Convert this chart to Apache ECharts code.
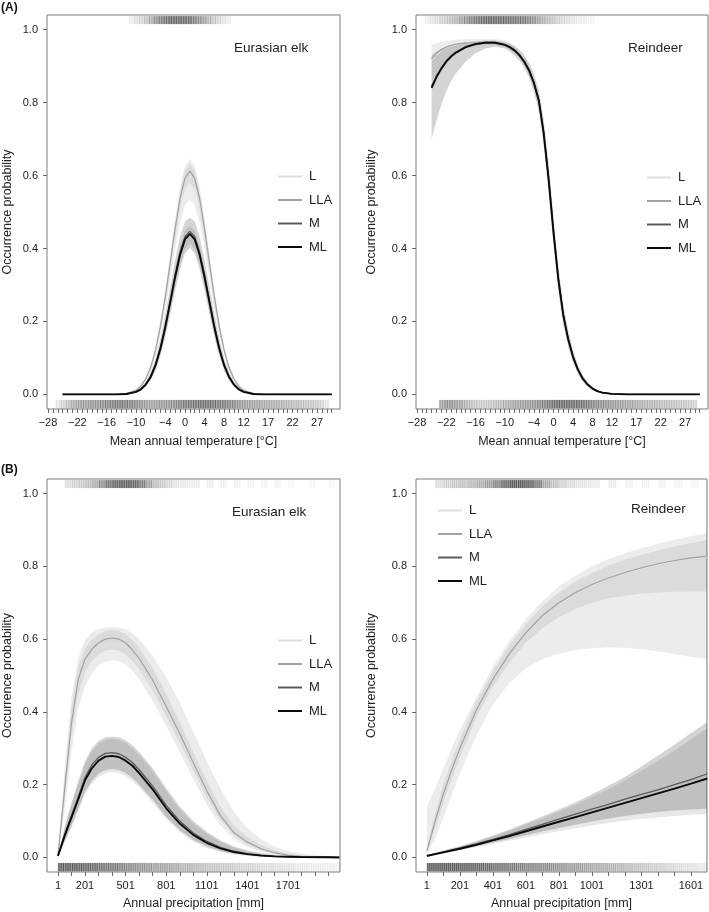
<!DOCTYPE html>
<html><head><meta charset="utf-8">
<script src="https://cdn.jsdelivr.net/npm/echarts@6/dist/echarts.min.js"></script>
<style>html,body{margin:0;padding:0;background:#fff}#c{width:709px;height:912px}</style>
</head><body><div id="c"></div>
<script>
// ---------- labels ----------
const MODELS = ['L','LLA','M','ML'];
const Y_LABELS = [0,0.2,0.4,0.6,0.8,1.0];
const TEMP_LABELS = [-28,-22,-16,-10,-4,0,4,8,12,17,22,27];
const PREC_LABELS_ELK = [1,201,501,801,1101,1401,1701];
const PREC_LABELS_REIN = [1,201,401,601,801,1001,1301,1601];
const PANEL_TITLES = ['Eurasian elk','Reindeer','Eurasian elk','Reindeer'];
const X_NAMES = ['Mean annual temperature [°C]','Mean annual temperature [°C]','Annual precipitation [mm]','Annual precipitation [mm]'];
const Y_NAME = 'Occurrence probability';

// ---------- (A) Eurasian elk vs temperature ----------
const TA_X   = [-25,-14,-12,-10,-9,-8,-7,-6,-5,-4,-3,-2,-1,0,1,2,3,4,5,6,7,8,9,10,11,12,14,16,30];
const TA_ML  = [0,0,0.001,0.007,0.014,0.027,0.048,0.08,0.126,0.185,0.253,0.322,0.383,0.425,0.44,0.425,0.383,0.322,0.253,0.185,0.126,0.08,0.048,0.027,0.014,0.007,0.001,0,0];
const TA_M   = [0,0,0.001,0.007,0.015,0.028,0.05,0.083,0.13,0.19,0.258,0.328,0.39,0.432,0.447,0.432,0.39,0.328,0.258,0.19,0.13,0.083,0.05,0.028,0.015,0.007,0.001,0,0];
const TA_LLA = [0,0,0.002,0.011,0.023,0.043,0.075,0.122,0.188,0.269,0.362,0.455,0.537,0.592,0.612,0.592,0.537,0.455,0.362,0.269,0.188,0.122,0.075,0.043,0.023,0.011,0.002,0,0];
const TA_L   = [0,0,0.002,0.011,0.022,0.041,0.072,0.118,0.181,0.26,0.349,0.439,0.518,0.571,0.59,0.571,0.518,0.439,0.349,0.26,0.181,0.118,0.072,0.041,0.022,0.011,0.002,0,0];
const TA_L_LO   = [0,0,0.002,0.01,0.02,0.038,0.066,0.107,0.165,0.235,0.317,0.398,0.47,0.518,0.535,0.518,0.47,0.398,0.317,0.235,0.165,0.107,0.066,0.038,0.02,0.01,0.002,0,0];
const TA_L_HI   = [0,0,0.003,0.013,0.026,0.048,0.082,0.133,0.204,0.29,0.387,0.483,0.57,0.626,0.645,0.626,0.57,0.483,0.387,0.29,0.204,0.133,0.082,0.048,0.026,0.013,0.003,0,0];
const TA_LLA_LO = [0,0,0.002,0.01,0.022,0.041,0.071,0.116,0.179,0.256,0.344,0.432,0.51,0.562,0.581,0.562,0.51,0.432,0.344,0.256,0.179,0.116,0.071,0.041,0.022,0.01,0.002,0,0];
const TA_LLA_HI = [0,0,0.002,0.011,0.024,0.045,0.078,0.126,0.195,0.278,0.375,0.471,0.556,0.613,0.633,0.613,0.556,0.471,0.375,0.278,0.195,0.126,0.078,0.045,0.024,0.011,0.002,0,0];
const TA_M_LO   = [0,0,0.001,0.005,0.011,0.021,0.039,0.066,0.106,0.158,0.219,0.284,0.343,0.386,0.402,0.386,0.343,0.284,0.219,0.158,0.106,0.066,0.039,0.021,0.011,0.005,0.001,0,0];
const TA_M_HI   = [0,0,0.002,0.009,0.019,0.035,0.062,0.1,0.154,0.222,0.296,0.37,0.433,0.474,0.485,0.474,0.433,0.37,0.296,0.222,0.154,0.1,0.062,0.035,0.019,0.009,0.002,0,0];
const TA_ML_LO  = [0,0,0.001,0.006,0.012,0.023,0.042,0.071,0.113,0.168,0.233,0.299,0.357,0.398,0.414,0.398,0.357,0.299,0.233,0.168,0.113,0.071,0.042,0.023,0.012,0.006,0.001,0,0];
const TA_ML_HI  = [0,0,0.001,0.008,0.016,0.031,0.054,0.09,0.139,0.202,0.273,0.344,0.407,0.449,0.462,0.449,0.407,0.344,0.273,0.202,0.139,0.09,0.054,0.031,0.016,0.008,0.001,0,0];

// ---------- (A) Reindeer vs temperature ----------
const TB_X   = [-25,-24,-23,-22,-21,-20,-18,-16,-14,-12,-10,-9,-8,-7,-6,-5,-4,-3,-2,-1,0,1,2,3,4,5,6,7,8,9,10,12,15,20,25,30];
const TB_ML  = [0.84,0.87,0.893,0.912,0.926,0.937,0.952,0.96,0.964,0.964,0.958,0.952,0.943,0.93,0.912,0.888,0.853,0.805,0.715,0.59,0.445,0.315,0.218,0.152,0.103,0.068,0.043,0.027,0.016,0.009,0.005,0.0015,0,0,0,0];
const TB_M   = [0.845,0.873,0.895,0.914,0.928,0.938,0.953,0.961,0.965,0.965,0.959,0.953,0.944,0.931,0.913,0.889,0.854,0.807,0.718,0.593,0.448,0.318,0.22,0.154,0.104,0.069,0.044,0.028,0.016,0.009,0.005,0.0015,0,0,0,0];
const TB_LLA = [0.92,0.935,0.945,0.952,0.957,0.96,0.963,0.964,0.965,0.965,0.959,0.953,0.944,0.931,0.913,0.889,0.854,0.807,0.718,0.593,0.448,0.318,0.22,0.154,0.104,0.069,0.044,0.028,0.016,0.009,0.005,0.0015,0,0,0,0];
const TB_L   = [0.915,0.93,0.942,0.95,0.955,0.958,0.962,0.964,0.965,0.965,0.959,0.953,0.944,0.931,0.913,0.889,0.854,0.807,0.718,0.593,0.448,0.318,0.22,0.154,0.104,0.069,0.044,0.028,0.016,0.009,0.005,0.0015,0,0,0,0];
const TB_L_LO = [0.86,0.88,0.9,0.915,0.925,0.935,0.948,0.955,0.958,0.958,0.952,0.945,0.935,0.921,0.902,0.876,0.84,0.79,0.695,0.568,0.425,0.297,0.203,0.142,0.095,0.062,0.039,0.024,0.014,0.008,0.004,0.001,0,0,0,0];
const TB_L_HI = [0.958,0.962,0.966,0.968,0.97,0.972,0.974,0.975,0.975,0.975,0.97,0.963,0.954,0.942,0.925,0.902,0.868,0.823,0.738,0.615,0.47,0.335,0.233,0.164,0.113,0.075,0.048,0.031,0.019,0.011,0.006,0.002,0,0,0,0];
const TB_M_LO = [0.70,0.75,0.795,0.83,0.86,0.88,0.912,0.935,0.948,0.953,0.948,0.94,0.93,0.915,0.895,0.868,0.828,0.775,0.68,0.55,0.405,0.28,0.19,0.132,0.087,0.057,0.035,0.021,0.012,0.006,0.003,0.001,0,0,0,0];
const TB_M_HI = [0.93,0.94,0.948,0.953,0.957,0.96,0.965,0.968,0.97,0.97,0.966,0.962,0.955,0.945,0.93,0.91,0.878,0.835,0.752,0.635,0.49,0.355,0.248,0.177,0.122,0.082,0.053,0.034,0.021,0.012,0.007,0.002,0,0,0,0];

// ---------- (B) Eurasian elk vs precipitation ----------
const PA_X   = [1,51,101,151,201,251,301,351,401,451,501,551,601,701,801,901,1001,1101,1201,1301,1401,1501,1601,1701,1801,2001,2080];
const PA_LLA = [0.005,0.19,0.37,0.49,0.545,0.572,0.59,0.6,0.603,0.6,0.59,0.57,0.547,0.487,0.415,0.34,0.26,0.183,0.115,0.068,0.042,0.024,0.013,0.006,0.003,0.001,0.0005];
const PA_L   = [0.005,0.184,0.359,0.475,0.529,0.555,0.572,0.582,0.585,0.582,0.572,0.553,0.531,0.472,0.403,0.33,0.252,0.178,0.112,0.066,0.041,0.023,0.013,0.006,0.003,0.001,0];
const PA_ML  = [0.004,0.06,0.11,0.16,0.212,0.245,0.266,0.277,0.279,0.276,0.266,0.252,0.232,0.187,0.135,0.093,0.062,0.04,0.025,0.015,0.009,0.005,0.003,0.002,0.001,0.0005,0];
const PA_M   = [0.005,0.063,0.115,0.167,0.22,0.254,0.275,0.286,0.288,0.285,0.275,0.261,0.241,0.196,0.143,0.1,0.067,0.044,0.028,0.017,0.01,0.006,0.003,0.002,0.001,0.0005,0];
const PA_L_LO   = [0.003,0.13,0.29,0.41,0.47,0.505,0.527,0.538,0.542,0.54,0.53,0.513,0.49,0.43,0.36,0.29,0.215,0.145,0.088,0.05,0.028,0.015,0.007,0.003,0.001,0,0];
const PA_L_HI   = [0.008,0.25,0.44,0.55,0.598,0.618,0.628,0.632,0.633,0.632,0.627,0.616,0.6,0.555,0.495,0.425,0.345,0.265,0.19,0.125,0.08,0.05,0.03,0.018,0.01,0.003,0.002];
const PA_LLA_LO = [0.004,0.16,0.33,0.45,0.51,0.54,0.558,0.568,0.571,0.568,0.558,0.54,0.517,0.458,0.387,0.315,0.238,0.165,0.103,0.06,0.035,0.019,0.009,0.004,0.002,0,0];
const PA_LLA_HI = [0.006,0.22,0.41,0.525,0.575,0.598,0.613,0.622,0.625,0.622,0.614,0.597,0.576,0.52,0.45,0.372,0.29,0.21,0.14,0.088,0.056,0.034,0.02,0.011,0.006,0.002,0.001];
const PA_M_LO   = [0.003,0.045,0.088,0.133,0.18,0.21,0.23,0.24,0.243,0.24,0.232,0.218,0.2,0.158,0.112,0.075,0.048,0.03,0.018,0.01,0.006,0.003,0.002,0.001,0,0,0];
const PA_M_HI   = [0.007,0.085,0.15,0.21,0.265,0.3,0.32,0.33,0.332,0.33,0.322,0.308,0.29,0.245,0.19,0.14,0.1,0.07,0.047,0.03,0.019,0.012,0.007,0.004,0.002,0.001,0.001];
const PA_ML_LO  = [0.002,0.04,0.082,0.127,0.173,0.203,0.222,0.232,0.235,0.232,0.224,0.21,0.192,0.15,0.105,0.069,0.043,0.026,0.015,0.008,0.004,0.002,0.001,0,0,0,0];
const PA_ML_HI  = [0.006,0.08,0.143,0.202,0.257,0.292,0.313,0.323,0.326,0.323,0.315,0.3,0.282,0.237,0.183,0.133,0.094,0.065,0.043,0.027,0.017,0.01,0.006,0.003,0.002,0.001,0];

// ---------- (B) Reindeer vs precipitation ----------
const PB_X   = [1,51,101,151,201,301,401,501,601,701,801,901,1001,1101,1201,1301,1401,1501,1601,1700];
const PB_LLA = [0.018,0.10,0.175,0.24,0.30,0.405,0.49,0.56,0.618,0.665,0.70,0.728,0.75,0.768,0.783,0.796,0.807,0.816,0.823,0.828];
const PB_L   = [0.016,0.098,0.172,0.237,0.297,0.402,0.487,0.557,0.615,0.662,0.697,0.725,0.747,0.765,0.78,0.793,0.804,0.813,0.82,0.825];
const PB_ML  = [0.004,0.009,0.014,0.019,0.024,0.035,0.047,0.059,0.072,0.085,0.098,0.111,0.124,0.137,0.15,0.163,0.176,0.189,0.203,0.217];
const PB_M   = [0.005,0.01,0.015,0.02,0.026,0.037,0.05,0.063,0.077,0.091,0.105,0.119,0.133,0.146,0.16,0.173,0.186,0.2,0.214,0.23];
const PB_L_LO   = [0.01,0.05,0.11,0.17,0.23,0.335,0.42,0.48,0.52,0.545,0.56,0.57,0.575,0.577,0.576,0.572,0.566,0.559,0.551,0.545];
const PB_L_HI   = [0.14,0.19,0.245,0.3,0.35,0.44,0.525,0.595,0.655,0.705,0.745,0.775,0.8,0.82,0.836,0.85,0.862,0.873,0.883,0.892];
const PB_LLA_LO = [0.008,0.08,0.15,0.215,0.275,0.385,0.47,0.535,0.59,0.63,0.66,0.683,0.7,0.712,0.72,0.725,0.728,0.73,0.731,0.731];
const PB_LLA_HI = [0.03,0.12,0.2,0.265,0.325,0.428,0.512,0.583,0.642,0.69,0.728,0.758,0.782,0.802,0.818,0.832,0.844,0.855,0.864,0.872];
const PB_M_LO   = [0.003,0.007,0.012,0.017,0.021,0.031,0.041,0.051,0.061,0.071,0.081,0.09,0.099,0.107,0.114,0.12,0.125,0.129,0.132,0.134];
const PB_M_HI   = [0.008,0.013,0.019,0.025,0.031,0.045,0.06,0.077,0.095,0.113,0.132,0.152,0.174,0.197,0.222,0.25,0.28,0.31,0.342,0.372];
const PB_ML_LO  = [0.002,0.006,0.011,0.015,0.019,0.028,0.037,0.046,0.055,0.064,0.072,0.08,0.088,0.095,0.101,0.106,0.11,0.114,0.117,0.119];
const PB_ML_HI  = [0.007,0.012,0.018,0.024,0.03,0.043,0.058,0.074,0.091,0.108,0.126,0.145,0.166,0.188,0.212,0.238,0.265,0.294,0.325,0.355];

// ---------- rug densities [x, density] ----------
const RUG_TA_TOP = [[-11,0.08],[-10,0.15],[-9,0.2],[-8,0.28],[-7,0.4],[-6,0.55],[-5,0.65],[-4,0.72],[-3,0.8],[-2,0.82],[-1,0.82],[0,0.8],[1,0.75],[2,0.65],[3,0.55],[4,0.45],[5,0.35],[6,0.25],[7,0.18],[8,0.12],[9,0.08]];
const RUG_TA_BOT = [[-26,0.12],[-25,0.2],[-24,0.3],[-23,0.4],[-22,0.45],[-21,0.5],[-20,0.5],[-19,0.55],[-18,0.55],[-17,0.6],[-16,0.62],[-15,0.65],[-14,0.68],[-13,0.7],[-12,0.68],[-11,0.65],[-10,0.6],[-9,0.55],[-8,0.5],[-7,0.48],[-6,0.48],[-5,0.5],[-4,0.52],[-3,0.55],[-2,0.6],[-1,0.65],[0,0.7],[1,0.72],[2,0.75],[3,0.75],[4,0.75],[5,0.75],[6,0.72],[7,0.7],[8,0.68],[9,0.65],[10,0.6],[11,0.55],[12,0.5],[13,0.48],[14,0.45],[15,0.45],[16,0.42],[17,0.42],[18,0.4],[19,0.4],[20,0.38],[21,0.35],[22,0.33],[23,0.32],[24,0.3],[25,0.28],[26,0.28],[27,0.25],[28,0.2],[29,0.12]];
const RUG_TB_TOP = [[-26,0.08],[-25,0.12],[-24,0.15],[-23,0.2],[-22,0.25],[-21,0.3],[-20,0.35],[-19,0.45],[-18,0.55],[-17,0.62],[-16,0.7],[-15,0.75],[-14,0.8],[-13,0.82],[-12,0.82],[-11,0.8],[-10,0.78],[-9,0.75],[-8,0.72],[-7,0.7],[-6,0.68],[-5,0.62],[-4,0.55],[-3,0.45],[-2,0.38],[-1,0.32],[0,0.28],[1,0.22],[2,0.18],[3,0.15],[4,0.12],[5,0.1],[6,0.08],[7,0.06],[8,0.05]];
const RUG_TB_BOT = [[-23,0.45],[-22,0.55],[-21,0.55],[-20,0.5],[-19,0.45],[-18,0.38],[-17,0.32],[-16,0.28],[-15,0.25],[-14,0.25],[-13,0.28],[-12,0.3],[-11,0.32],[-10,0.38],[-9,0.42],[-8,0.45],[-7,0.48],[-6,0.5],[-5,0.52],[-4,0.55],[-3,0.6],[-2,0.65],[-1,0.7],[0,0.75],[1,0.8],[2,0.82],[3,0.82],[4,0.8],[5,0.78],[6,0.75],[7,0.7],[8,0.65],[9,0.6],[10,0.58],[11,0.55],[12,0.52],[13,0.5],[14,0.48],[15,0.45],[16,0.45],[17,0.42],[18,0.4],[19,0.38],[20,0.36],[21,0.35],[22,0.33],[23,0.32],[24,0.3],[25,0.3],[26,0.28],[27,0.28],[28,0.25],[29,0.2]];
const RUG_PA_TOP = [[75,0.15],[125,0.2],[175,0.25],[225,0.3],[275,0.4],[325,0.55],[375,0.7],[425,0.8],[475,0.85],[525,0.85],[575,0.8],[625,0.65],[675,0.45],[725,0.3],[775,0.25],[825,0.18],[875,0.12],[925,0.1],[975,0.08],[1025,0.08],[1125,0.08],[1225,0.06],[1325,0.06],[1425,0.05],[1525,0.05],[1625,0.05],[1725,0.04],[1875,0.04],[2025,0.04]];
const RUG_PA_BOT = [[25,0.85],[75,0.85],[125,0.85],[175,0.82],[225,0.8],[275,0.78],[325,0.72],[375,0.7],[425,0.68],[475,0.62],[525,0.58],[575,0.55],[625,0.52],[675,0.5],[725,0.45],[775,0.45],[825,0.42],[875,0.4],[925,0.35],[975,0.35],[1025,0.32],[1075,0.3],[1125,0.28],[1175,0.28],[1225,0.25],[1275,0.25],[1325,0.22],[1375,0.2],[1425,0.2],[1475,0.18],[1525,0.15],[1575,0.15],[1625,0.13],[1675,0.12],[1725,0.12],[1775,0.1],[1825,0.1],[1875,0.08],[1925,0.08],[1975,0.07],[2025,0.07],[2075,0.06]];
const RUG_PB_TOP = [[75,0.15],[125,0.2],[175,0.25],[225,0.28],[275,0.32],[325,0.38],[375,0.45],[425,0.6],[475,0.75],[525,0.85],[575,0.85],[625,0.8],[675,0.65],[725,0.4],[775,0.28],[825,0.2],[875,0.15],[925,0.12],[975,0.1],[1025,0.08],[1125,0.08],[1225,0.06],[1325,0.06],[1425,0.05],[1525,0.05],[1625,0.04]];
const RUG_PB_BOT = [[25,0.85],[75,0.85],[125,0.85],[175,0.85],[225,0.82],[275,0.8],[325,0.78],[375,0.75],[425,0.7],[475,0.68],[525,0.65],[575,0.62],[625,0.6],[675,0.58],[725,0.55],[775,0.52],[825,0.5],[875,0.48],[925,0.45],[975,0.42],[1025,0.4],[1075,0.38],[1125,0.35],[1175,0.33],[1225,0.3],[1275,0.28],[1325,0.25],[1375,0.22],[1425,0.2],[1475,0.18],[1525,0.15],[1575,0.13],[1625,0.12],[1675,0.1]];

// ---------- styling / layout (not data) ----------
const FONT = '"Liberation Sans", Arial, Helvetica, sans-serif';
const GRIDS = [[47,15,293,394],[416,15,292,394],[47,479,293,393],[416,479,291,393]];
const XR = [[-28.2,31.7],[-28.2,31.7],[-80,2085],[-65,1698]];
const YNAME_GAP = [32.5,37.5,32.5,37.5];
const XNAME_GAP = [26,26,25,25];
const LINE_STYLE = {L:{color:'#dedede',width:1.2}, LLA:{color:'#a2a2a2',width:1.2}, M:{color:'#5a5a5a',width:1.3}, ML:{color:'#0a0a0a',width:1.9}};
const BAND_FILL = {L:'rgba(0,0,0,0.075)', LLA:'rgba(0,0,0,0.07)', M:'rgba(0,0,0,0.17)', ML:'rgba(0,0,0,0.09)'};

function range(a,b,s){const r=[];for(let v=a;v<=b+1e-9;v+=s)r.push(v);return r;}
const TEMP_TICKS = range(-28,30,1);
const PREC_TICKS_ELK = range(1,2001,100);
const PREC_TICKS_REIN = range(1,1601,100);

const minus = v => v < 0 ? '\u2212' + Math.abs(v) : String(v);

const PANELS = [
  {x:TA_X, lines:{L:TA_L,LLA:TA_LLA,M:TA_M,ML:TA_ML}, bands:{L:[TA_L_LO,TA_L_HI],LLA:[TA_LLA_LO,TA_LLA_HI],M:[TA_M_LO,TA_M_HI],ML:[TA_ML_LO,TA_ML_HI]}, rugTop:RUG_TA_TOP, rugBot:RUG_TA_BOT, binW:1, ticks:TEMP_TICKS, labels:TEMP_LABELS},
  {x:TB_X, lines:{L:TB_L,LLA:TB_LLA,M:TB_M,ML:TB_ML}, bands:{L:[TB_L_LO,TB_L_HI],M:[TB_M_LO,TB_M_HI]}, rugTop:RUG_TB_TOP, rugBot:RUG_TB_BOT, binW:1, ticks:TEMP_TICKS, labels:TEMP_LABELS},
  {x:PA_X, lines:{L:PA_L,LLA:PA_LLA,M:PA_M,ML:PA_ML}, bands:{L:[PA_L_LO,PA_L_HI],LLA:[PA_LLA_LO,PA_LLA_HI],M:[PA_M_LO,PA_M_HI],ML:[PA_ML_LO,PA_ML_HI]}, rugTop:RUG_PA_TOP, rugBot:RUG_PA_BOT, binW:50, ticks:PREC_TICKS_ELK, labels:PREC_LABELS_ELK},
  {x:PB_X, lines:{L:PB_L,LLA:PB_LLA,M:PB_M,ML:PB_ML}, bands:{L:[PB_L_LO,PB_L_HI],LLA:[PB_LLA_LO,PB_LLA_HI],M:[PB_M_LO,PB_M_HI],ML:[PB_ML_LO,PB_ML_HI]}, rugTop:RUG_PB_TOP, rugBot:RUG_PB_BOT, binW:50, ticks:PREC_TICKS_REIN, labels:PREC_LABELS_REIN}
];

function bandSeries(gi, xs, lo, hi, fill){
  return {type:'custom', xAxisIndex:gi, yAxisIndex:gi, silent:true, clip:true, z:1,
    data:[[xs[0], lo[0]]],
    renderItem:function(params, api){
      const pts=[];
      for(let i=0;i<xs.length;i++) pts.push(api.coord([xs[i], hi[i]]));
      for(let i=xs.length-1;i>=0;i--) pts.push(api.coord([xs[i], lo[i]]));
      return {type:'polygon', shape:{points:pts}, style:{fill:fill}};
    }};
}
function rugSeries(gi, bins, binW, y0, y1){
  return {type:'custom', xAxisIndex:gi, yAxisIndex:gi, silent:true, clip:true, z:3,
    data:bins,
    renderItem:function(params, api){
      const x=api.value(0), a=api.value(1);
      const p0=api.coord([x-binW/2, y1]), p1=api.coord([x+binW/2, y0]);
      const w=p1[0]-p0[0], h=p1[1]-p0[1];
      const n=Math.max(1, Math.round(w/2));
      const ch=[{type:'rect', shape:{x:p0[0], y:p0[1], width:w, height:h}, style:{fill:'rgba(30,30,30,'+(a*0.55)+')'}}];
      for(let k=0;k<n;k++){
        ch.push({type:'rect', shape:{x:p0[0]+(k+0.5)*w/n-0.5, y:p0[1], width:1, height:h}, style:{fill:'rgba(30,30,30,'+(a*0.6)+')'}});
      }
      return {type:'group', children:ch};
    }};
}

const series=[];
PANELS.forEach((p,gi)=>{
  ['L','LLA','M','ML'].forEach(m=>{ if(p.bands[m]) series.push(bandSeries(gi,p.x,p.bands[m][0],p.bands[m][1],BAND_FILL[m])); });
  MODELS.forEach(m=>{
    series.push({type:'line', name:m, xAxisIndex:gi, yAxisIndex:gi, symbol:'none', showSymbol:false, smooth:false,
      z:2, silent:true, lineStyle:LINE_STYLE[m], itemStyle:{color:LINE_STYLE[m].color},
      data:p.x.map((x,i)=>[x,p.lines[m][i]])});
  });
  series.push(rugSeries(gi,p.rugTop,p.binW,1.015,1.037));
  series.push(rugSeries(gi,p.rugBot,p.binW,-0.038,-0.015));
});

const LEG_POS = [[277,170],[646,171],[277,634],[437,504]];
const TITLE_POS = [[234,41],[628,41],[232,505],[631,502]];

const option = {
  animation:false,
  backgroundColor:'#fff',
  textStyle:{fontFamily:FONT},
  title:[
    ...PANEL_TITLES.map((t,i)=>({text:t, left:TITLE_POS[i][0], top:TITLE_POS[i][1], padding:0, textStyle:{fontSize:13.5, fontWeight:'normal', color:'#222', fontFamily:FONT}})),
    {text:'(A)', left:1, top:2, padding:0, textStyle:{fontSize:12, fontWeight:'bold', color:'#111', fontFamily:FONT}},
    {text:'(B)', left:1, top:464, padding:0, textStyle:{fontSize:12, fontWeight:'bold', color:'#111', fontFamily:FONT}}
  ],
  legend: LEG_POS.map(pos=>({data:MODELS, left:pos[0], top:pos[1], orient:'vertical', padding:0, itemWidth:24, itemHeight:13, itemGap:10.5, selectedMode:false,
    itemStyle:{opacity:0},
    textStyle:{fontSize:13, color:'#222', fontFamily:FONT, padding:[0,0,0,2]}})),
  grid: GRIDS.map(g=>({left:g[0], top:g[1], width:g[2], height:g[3], show:true, borderColor:'#7a7a7a', borderWidth:1, containLabel:false, outerBoundsMode:'none'})),
  xAxis: PANELS.map((p,gi)=>({type:'value', gridIndex:gi, min:XR[gi][0], max:XR[gi][1],
    name:X_NAMES[gi], nameLocation:'middle', nameGap:XNAME_GAP[gi], nameMoveOverlap:false,
    nameTextStyle:{fontSize:12.5, color:'#222', fontFamily:FONT},
    axisLine:{show:false, onZero:false},
    axisTick:{show:true, length:4, customValues:p.ticks, lineStyle:{color:'#666', width:1}},
    axisLabel:{customValues:p.labels, margin:8, fontSize:11, color:'#222', fontFamily:FONT, formatter:v=>minus(v)},
    splitLine:{show:false}})),
  yAxis: PANELS.map((p,gi)=>({type:'value', gridIndex:gi, min:-0.04, max:1.04,
    name:Y_NAME, nameLocation:'middle', nameGap:YNAME_GAP[gi], nameMoveOverlap:false,
    nameTextStyle:{fontSize:12.5, color:'#222', fontFamily:FONT},
    axisLine:{show:false, onZero:false},
    axisTick:{show:true, length:4, customValues:Y_LABELS, lineStyle:{color:'#666', width:1}},
    axisLabel:{customValues:Y_LABELS, margin:9, fontSize:11, color:'#222', fontFamily:FONT, formatter:v=>v.toFixed(1)},
    splitLine:{show:false}})),
  series:series
};
const chart = echarts.init(document.getElementById('c'), null, {renderer:'canvas'});
chart.setOption(option);
</script></body></html>
